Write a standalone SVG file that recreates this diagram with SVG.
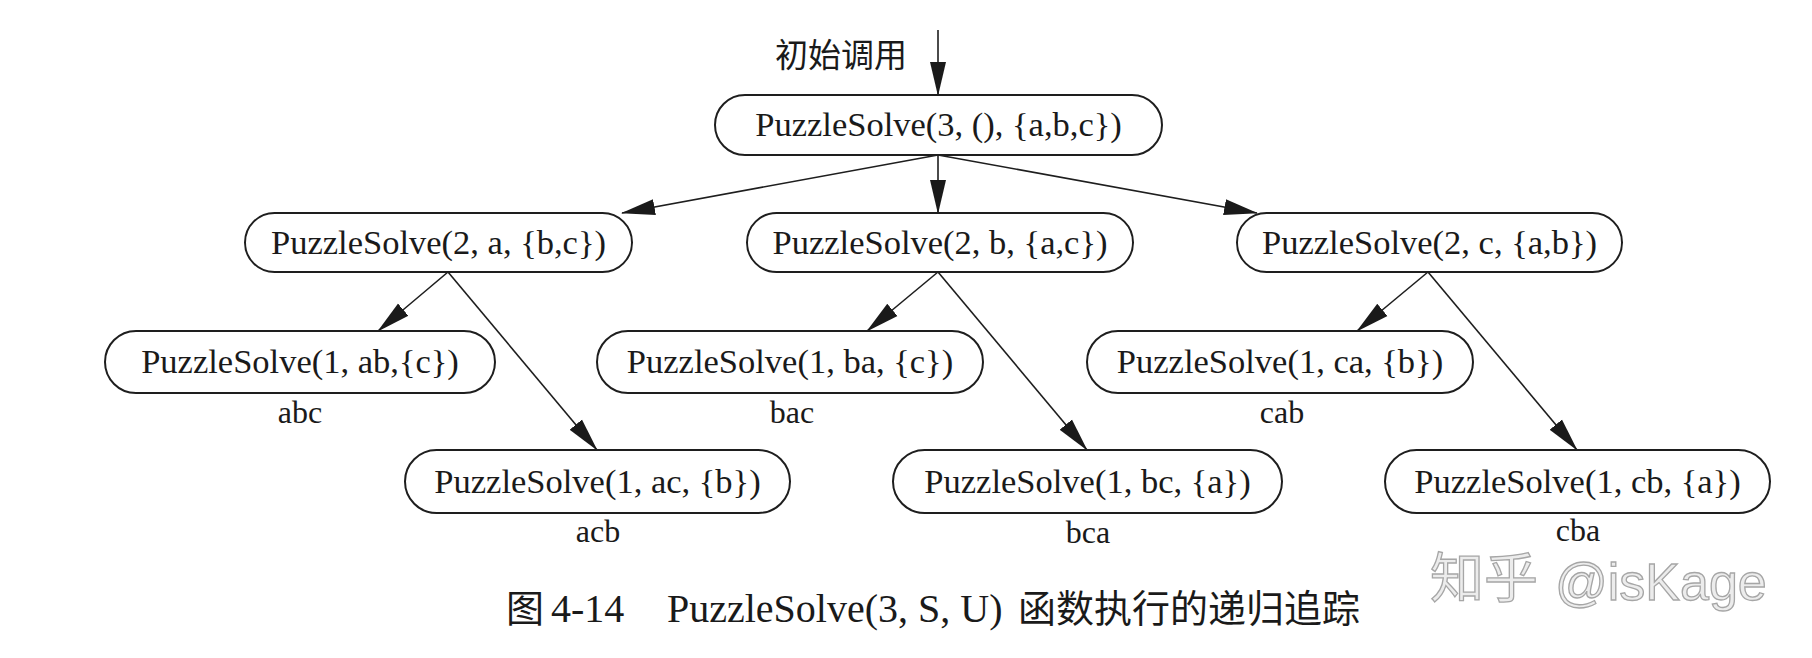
<svg xmlns="http://www.w3.org/2000/svg" width="1812" height="658" viewBox="0 0 1812 658">
<style>
.box{fill:#ffffff;stroke:#1e1e1e;stroke-width:2}
.t{font-family:"Liberation Serif","Times New Roman",serif;font-size:34.5px;fill:#1a1a1a;text-anchor:middle}
.lbl{font-family:"Liberation Serif","Times New Roman",serif;font-size:32px;fill:#1a1a1a;text-anchor:middle}
.cjk{font-family:"Noto Sans CJK SC","Noto Sans",sans-serif;fill:#1a1a1a}
.edge{fill:none;stroke:#1e1e1e;stroke-width:1.6;marker-end:url(#arr)}
.wm{fill:#ececec;stroke:#a6a6a6;stroke-width:1.3}
</style>
<defs>
<marker id="arr" markerUnits="userSpaceOnUse" markerWidth="34" markerHeight="18" viewBox="0 0 34 18" refX="33" refY="9" orient="auto">
<path d="M0,1 L34,9 L0,17 z" fill="#1a1a1a"/>
</marker>
</defs>
<rect width="1812" height="658" fill="#ffffff"/>
<g id="connectors">
<path class="edge" d="M938,30 L938,95"/>
<path class="edge" d="M938,155 L622,213"/>
<path class="edge" d="M938,155 L938,213"/>
<path class="edge" d="M938,155 L1257,213"/>
<path class="edge" d="M448,272 L378,331"/>
<path class="edge" d="M448,272 L597,450"/>
<path class="edge" d="M938,272 L867,331"/>
<path class="edge" d="M938,272 L1087,450"/>
<path class="edge" d="M1428,272 L1357,331"/>
<path class="edge" d="M1428,272 L1577,450"/>
</g>
<g id="init-label"><text class="cjk" x="775" y="67" font-size="33">初始调用</text></g>
<g id="n-root"><rect class="box" x="715" y="95" width="447" height="60" rx="30"/><text class="t" x="938.5" y="136">PuzzleSolve(3, (), {a,b,c})</text></g>
<g id="n-a"><rect class="box" x="245" y="213" width="387" height="59" rx="29.5"/><text class="t" x="438.5" y="253.5">PuzzleSolve(2, a, {b,c})</text></g>
<g id="n-b"><rect class="box" x="747" y="213" width="386" height="59" rx="29.5"/><text class="t" x="940" y="253.5">PuzzleSolve(2, b, {a,c})</text></g>
<g id="n-c"><rect class="box" x="1237" y="213" width="385" height="59" rx="29.5"/><text class="t" x="1429.5" y="253.5">PuzzleSolve(2, c, {a,b})</text></g>
<g id="n-ab"><rect class="box" x="105" y="331" width="390" height="62" rx="31"/><text class="t" x="300" y="373">PuzzleSolve(1, ab,{c})</text><text class="lbl" x="300" y="423">abc</text></g>
<g id="n-ba"><rect class="box" x="597" y="331" width="386" height="62" rx="31"/><text class="t" x="790" y="373">PuzzleSolve(1, ba, {c})</text><text class="lbl" x="792" y="423">bac</text></g>
<g id="n-ca"><rect class="box" x="1087" y="331" width="386" height="62" rx="31"/><text class="t" x="1280" y="373">PuzzleSolve(1, ca, {b})</text><text class="lbl" x="1282" y="423">cab</text></g>
<g id="n-acb"><rect class="box" x="405" y="450" width="385" height="63" rx="31.5"/><text class="t" x="597.5" y="492.5">PuzzleSolve(1, ac, {b})</text><text class="lbl" x="598" y="542">acb</text></g>
<g id="n-bc"><rect class="box" x="893" y="450" width="389" height="63" rx="31.5"/><text class="t" x="1087.5" y="492.5">PuzzleSolve(1, bc, {a})</text><text class="lbl" x="1088" y="543">bca</text></g>
<g id="n-cb"><rect class="box" x="1385" y="450" width="385" height="63" rx="31.5"/><text class="t" x="1577.5" y="492.5">PuzzleSolve(1, cb, {a})</text><text class="lbl" x="1578" y="541">cba</text></g>
<g id="caption">
<text class="cjk" x="506" y="622" font-size="38">图</text>
<text x="551" y="622" font-family="Liberation Serif,serif" font-size="40" fill="#1a1a1a">4-14</text>
<text x="667" y="622" font-family="Liberation Serif,serif" font-size="40" fill="#1a1a1a">PuzzleSolve(3, S, U)</text>
<text class="cjk" x="1018" y="622" font-size="38">函数执行的递归追踪</text>
</g>
<g id="watermark">
<text class="wm" x="1430" y="598" font-family="Noto Sans CJK SC,sans-serif" font-size="54">知乎</text>
<text class="wm" x="1555" y="600" font-family="Liberation Sans,Arial,sans-serif" font-size="52">@isKage</text>
</g>
</svg>
